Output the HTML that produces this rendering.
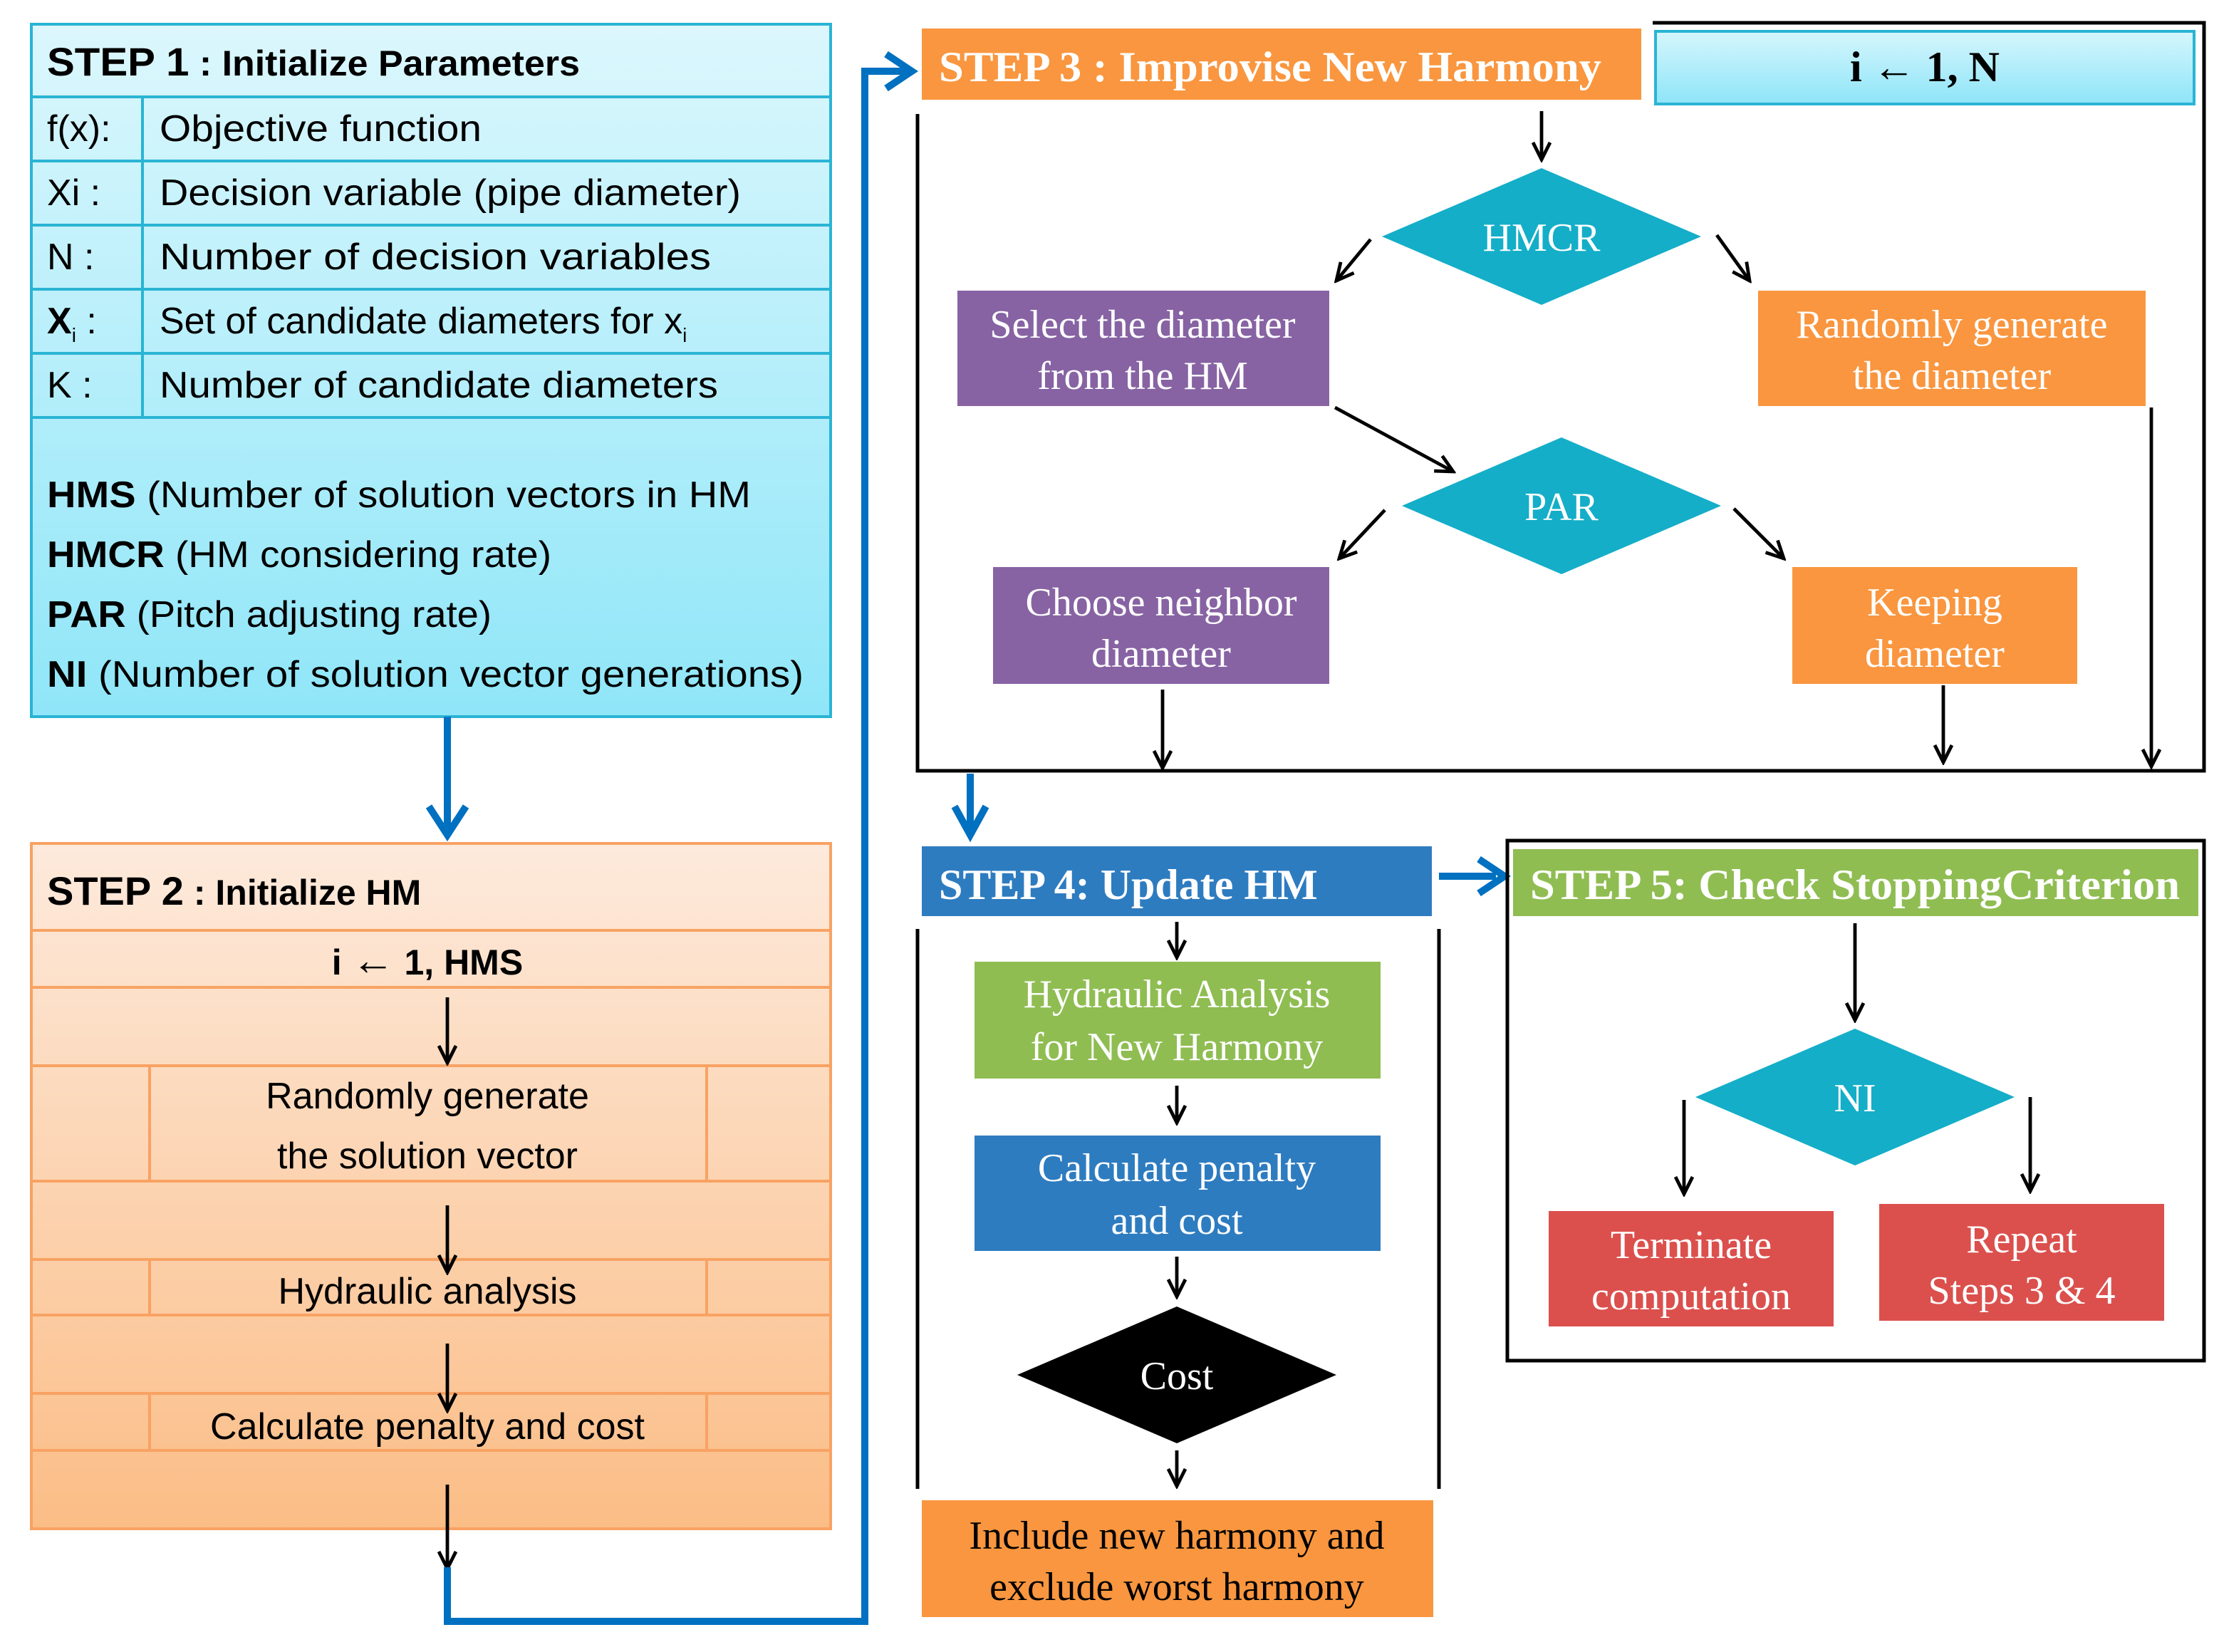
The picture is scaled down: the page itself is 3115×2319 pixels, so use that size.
<!DOCTYPE html>
<html><head><meta charset="utf-8"><style>html,body{margin:0;padding:0;background:#fff}svg{display:block}</style></head>
<body>
<svg width="3115" height="2319" viewBox="0 0 1557.5 1159.5" xmlns="http://www.w3.org/2000/svg">
<defs>
<linearGradient id="g1" x1="0" y1="0" x2="0" y2="1"><stop offset="0" stop-color="#dcf7fd"/><stop offset="1" stop-color="#8fe6f8"/></linearGradient>
<linearGradient id="g2" x1="0" y1="0" x2="0" y2="1"><stop offset="0" stop-color="#fdeadc"/><stop offset="1" stop-color="#fbbd86"/></linearGradient>
<linearGradient id="g3" x1="0" y1="0" x2="0" y2="1"><stop offset="0" stop-color="#d6f6fd"/><stop offset="1" stop-color="#8ee5f8"/></linearGradient>
<marker id="ah" viewBox="0 0 16 16" refX="14" refY="8" markerWidth="16" markerHeight="16" markerUnits="userSpaceOnUse" orient="auto"><path d="M2,2 L14,8 L2,14" fill="none" stroke="#000" stroke-width="2.4"/></marker>
</defs>
<style>
.c{font-family:"Liberation Sans",sans-serif;fill:#000}
.s{font-family:"Liberation Serif",serif}
.a{stroke:#000;stroke-width:2.4;fill:none;marker-end:url(#ah)}
.b{stroke:#0070c0;stroke-width:5;fill:none}
</style>

<!-- STEP 1 -->
<rect x="22" y="17" width="561" height="486" fill="url(#g1)" stroke="#2ab4d4" stroke-width="2"/>
<g stroke="#2ab4d4" stroke-width="2">
<line x1="22" y1="68" x2="583" y2="68"/><line x1="22" y1="113" x2="583" y2="113"/><line x1="22" y1="158" x2="583" y2="158"/><line x1="22" y1="203" x2="583" y2="203"/><line x1="22" y1="248" x2="583" y2="248"/><line x1="22" y1="293" x2="583" y2="293"/><line x1="100" y1="68" x2="100" y2="293"/>
</g>
<text class="c" x="33" y="53" font-size="25" font-weight="bold" textLength="374" lengthAdjust="spacingAndGlyphs"><tspan font-size="28">STEP 1</tspan> : Initialize Parameters</text>
<g class="c" font-size="26">
<text x="33" y="99">f(x):</text><text x="112" y="99" textLength="226" lengthAdjust="spacingAndGlyphs">Objective function</text>
<text x="33" y="144">Xi :</text><text x="112" y="144" textLength="408" lengthAdjust="spacingAndGlyphs">Decision variable (pipe diameter)</text>
<text x="33" y="189">N :</text><text x="112" y="189" textLength="387" lengthAdjust="spacingAndGlyphs">Number of decision variables</text>
<text x="33" y="234"><tspan font-weight="bold">X</tspan><tspan font-size="14" dy="6">i</tspan><tspan dy="-6"> :</tspan></text><text x="112" y="234">Set of candidate diameters for x<tspan font-size="14" dy="6">i</tspan></text>
<text x="33" y="279">K :</text><text x="112" y="279" textLength="392" lengthAdjust="spacingAndGlyphs">Number of candidate diameters</text>
<text x="33" y="356" textLength="494" lengthAdjust="spacingAndGlyphs"><tspan font-weight="bold">HMS</tspan> (Number of solution vectors in HM</text>
<text x="33" y="398" textLength="354" lengthAdjust="spacingAndGlyphs"><tspan font-weight="bold">HMCR</tspan> (HM considering rate)</text>
<text x="33" y="440" textLength="312" lengthAdjust="spacingAndGlyphs"><tspan font-weight="bold">PAR</tspan> (Pitch adjusting rate)</text>
<text x="33" y="482" textLength="531" lengthAdjust="spacingAndGlyphs"><tspan font-weight="bold">NI</tspan> (Number of solution vector generations)</text>
</g>

<line class="b" x1="314" y1="503" x2="314" y2="584"/>
<path d="M301,566 L314,586 L327,566" fill="none" stroke="#0070c0" stroke-width="5"/>

<!-- STEP 2 -->
<rect x="22" y="592" width="561" height="481" fill="url(#g2)" stroke="#f8a263" stroke-width="2"/>
<g stroke="#f8a263" stroke-width="2">
<line x1="22" y1="653" x2="583" y2="653"/><line x1="22" y1="693" x2="583" y2="693"/><line x1="22" y1="748" x2="583" y2="748"/><line x1="22" y1="829" x2="583" y2="829"/><line x1="22" y1="884" x2="583" y2="884"/><line x1="22" y1="923" x2="583" y2="923"/><line x1="22" y1="978" x2="583" y2="978"/><line x1="22" y1="1018" x2="583" y2="1018"/>
<line x1="105" y1="748" x2="105" y2="829"/><line x1="496" y1="748" x2="496" y2="829"/>
<line x1="105" y1="884" x2="105" y2="923"/><line x1="496" y1="884" x2="496" y2="923"/>
<line x1="105" y1="978" x2="105" y2="1018"/><line x1="496" y1="978" x2="496" y2="1018"/>
</g>
<text class="c" x="33" y="635" font-size="25" font-weight="bold"><tspan font-size="28">STEP 2</tspan> : Initialize HM</text>
<text class="c" x="300" y="684" font-size="25" font-weight="bold" text-anchor="middle">i <tspan font-size="30">←</tspan> 1, HMS</text>
<g class="c" font-size="26" text-anchor="middle">
<text x="300" y="778">Randomly generate</text>
<text x="300" y="820">the solution vector</text>
<text x="300" y="915">Hydraulic analysis</text>
<text x="300" y="1010">Calculate penalty and cost</text>
</g>
<line class="a" x1="314" y1="700" x2="314" y2="746"/>
<line class="a" x1="314" y1="846" x2="314" y2="893"/>
<line class="a" x1="314" y1="943" x2="314" y2="990"/>
<line class="a" x1="314" y1="1042" x2="314" y2="1101"/>

<path class="b" d="M314,1100 L314,1138 L607,1138 L607,50 L636,50"/>
<path d="M622,38 L640,50 L622,62" fill="none" stroke="#0070c0" stroke-width="5"/>

<!-- STEP 3 -->
<rect x="647" y="20" width="505" height="50" fill="#f9963f"/>
<text class="s" x="659" y="57" font-size="30" font-weight="bold" fill="#fff" textLength="465" lengthAdjust="spacingAndGlyphs">STEP 3 : Improvise New Harmony</text>
<rect x="1162" y="22" width="378" height="51" fill="url(#g3)" stroke="#2ab4d4" stroke-width="2"/>
<text class="s" x="1351" y="57" font-size="30" font-weight="bold" text-anchor="middle">i <tspan font-weight="normal">←</tspan> 1, N</text>
<path d="M1160,16 L1547,16 L1547,541 L644,541 L644,80" fill="none" stroke="#000" stroke-width="2.5"/>
<line class="a" x1="1082" y1="78" x2="1082" y2="112"/>
<polygon points="970,166 1082,118 1194,166 1082,214" fill="#14aec8"/>
<text class="s" x="1082" y="176" font-size="28" fill="#fff" text-anchor="middle">HMCR</text>
<line class="a" x1="962" y1="168" x2="938" y2="197"/>
<line class="a" x1="1205" y1="165" x2="1228" y2="197"/>
<rect x="672" y="204" width="261" height="81" fill="#8763a3"/>
<text class="s" x="802" y="237" font-size="28" fill="#fff" text-anchor="middle">Select the diameter</text>
<text class="s" x="802" y="273" font-size="28" fill="#fff" text-anchor="middle">from the HM</text>
<rect x="1234" y="204" width="272" height="81" fill="#f9963f"/>
<text class="s" x="1370" y="237" font-size="28" fill="#fff" text-anchor="middle">Randomly generate</text>
<text class="s" x="1370" y="273" font-size="28" fill="#fff" text-anchor="middle">the diameter</text>
<line class="a" x1="937" y1="286" x2="1020" y2="331"/>
<polygon points="984,355 1096,307 1208,355 1096,403" fill="#14aec8"/>
<text class="s" x="1096" y="365" font-size="28" fill="#fff" text-anchor="middle">PAR</text>
<line class="a" x1="972" y1="358" x2="940" y2="392"/>
<line class="a" x1="1217" y1="357" x2="1252" y2="392"/>
<rect x="697" y="398" width="236" height="82" fill="#8763a3"/>
<text class="s" x="815" y="432" font-size="28" fill="#fff" text-anchor="middle">Choose neighbor</text>
<text class="s" x="815" y="468" font-size="28" fill="#fff" text-anchor="middle">diameter</text>
<rect x="1258" y="398" width="200" height="82" fill="#f9963f"/>
<text class="s" x="1358" y="432" font-size="28" fill="#fff" text-anchor="middle">Keeping</text>
<text class="s" x="1358" y="468" font-size="28" fill="#fff" text-anchor="middle">diameter</text>
<line class="a" x1="816" y1="484" x2="816" y2="539"/>
<line class="a" x1="1364" y1="481" x2="1364" y2="535"/>
<line class="a" x1="1510" y1="286" x2="1510" y2="538"/>

<line class="b" x1="681" y1="543" x2="681" y2="582"/>
<path d="M670,566 L681,586 L692,566" fill="none" stroke="#0070c0" stroke-width="5"/>

<!-- STEP 4 -->
<rect x="647" y="594" width="358" height="49" fill="#2e7cc0"/>
<text class="s" x="659" y="631" font-size="30" font-weight="bold" fill="#fff">STEP 4: Update HM</text>
<line x1="644" y1="652" x2="644" y2="1045" stroke="#000" stroke-width="2.5"/>
<line x1="1010" y1="652" x2="1010" y2="1045" stroke="#000" stroke-width="2.5"/>
<line class="a" x1="826" y1="647" x2="826" y2="672"/>
<rect x="684" y="675" width="285" height="82" fill="#8fbd52"/>
<text class="s" x="826" y="707" font-size="28" fill="#fff" text-anchor="middle">Hydraulic Analysis</text>
<text class="s" x="826" y="744" font-size="28" fill="#fff" text-anchor="middle">for New Harmony</text>
<line class="a" x1="826" y1="762" x2="826" y2="788"/>
<rect x="684" y="797" width="285" height="81" fill="#2e7cc0"/>
<text class="s" x="826" y="829" font-size="28" fill="#fff" text-anchor="middle">Calculate penalty</text>
<text class="s" x="826" y="866" font-size="28" fill="#fff" text-anchor="middle">and cost</text>
<line class="a" x1="826" y1="882" x2="826" y2="910"/>
<polygon points="714,965 826,917 938,965 826,1013" fill="#000"/>
<text class="s" x="826" y="975" font-size="28" fill="#fff" text-anchor="middle">Cost</text>
<line class="a" x1="826" y1="1018" x2="826" y2="1043"/>
<rect x="647" y="1053" width="359" height="82" fill="#f9963f"/>
<text class="s" x="826" y="1087" font-size="28" text-anchor="middle">Include new harmony and</text>
<text class="s" x="826" y="1123" font-size="28" text-anchor="middle">exclude worst harmony</text>

<line class="b" x1="1010" y1="615" x2="1050" y2="615"/>
<path d="M1038,603 L1056,615 L1038,627" fill="none" stroke="#0070c0" stroke-width="5"/>

<!-- STEP 5 -->
<rect x="1058" y="590" width="489" height="365" fill="none" stroke="#000" stroke-width="2.5"/>
<rect x="1062" y="596" width="481" height="47" fill="#8fbd52"/>
<text class="s" x="1074" y="631" font-size="30" font-weight="bold" fill="#fff" textLength="456" lengthAdjust="spacingAndGlyphs">STEP 5: Check StoppingCriterion</text>
<line class="a" x1="1302" y1="648" x2="1302" y2="716"/>
<polygon points="1190,770 1302,722 1414,770 1302,818" fill="#14aec8"/>
<text class="s" x="1302" y="780" font-size="28" fill="#fff" text-anchor="middle">NI</text>
<line class="a" x1="1182" y1="772" x2="1182" y2="838"/>
<line class="a" x1="1425" y1="770" x2="1425" y2="836"/>
<rect x="1087" y="850" width="200" height="81" fill="#db504d"/>
<text class="s" x="1187" y="883" font-size="28" fill="#fff" text-anchor="middle">Terminate</text>
<text class="s" x="1187" y="919" font-size="28" fill="#fff" text-anchor="middle">computation</text>
<rect x="1319" y="845" width="200" height="82" fill="#db504d"/>
<text class="s" x="1419" y="879" font-size="28" fill="#fff" text-anchor="middle">Repeat</text>
<text class="s" x="1419" y="915" font-size="28" fill="#fff" text-anchor="middle">Steps 3 &amp; 4</text>
</svg>
</body></html>
